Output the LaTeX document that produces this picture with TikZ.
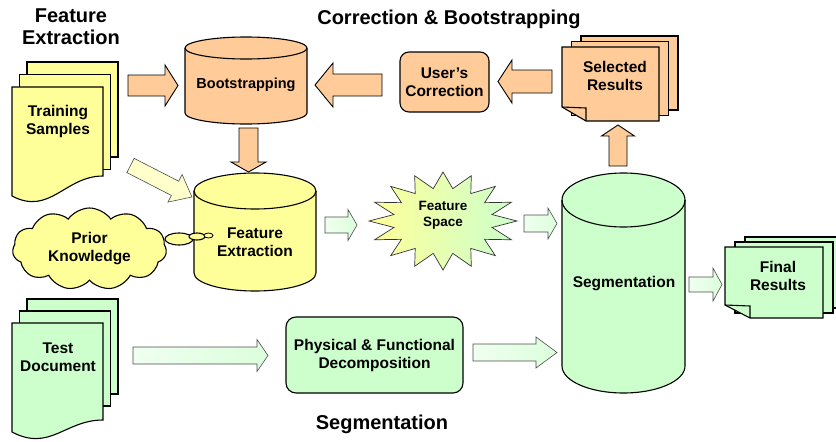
\documentclass[tikz,border=0pt]{standalone}
\usepackage{fontspec}
\setmainfont{Liberation Sans}
\usetikzlibrary{calc,shapes.symbols}
\definecolor{docyellow}{RGB}{255,255,153}
\definecolor{docorange}{RGB}{255,204,153}
\definecolor{docgreen}{RGB}{204,255,204}
\definecolor{palegreen}{RGB}{240,255,240}
\definecolor{paleyellow}{RGB}{255,255,204}

% upright cylinder: fill, centre x, top y, bottom y, x radius, y radius
\newcommand\drum[6]{%
  \filldraw[outline, fill=#1] (#2-#5,#3-#6) -- (#2-#5,#4+#6)
    arc[start angle=180, end angle=360, x radius=#5, y radius=#6] -- (#2+#5,#3-#6)
    arc[start angle=0, end angle=180, x radius=#5, y radius=#6] -- cycle;
  \draw[outline] (#2+#5,#3-#6) arc[start angle=0, end angle=-180, x radius=#5, y radius=#6];
}
% block arrow: style, from, to, half shaft, half head, head length
\newcommand\blockarrow[6][]{%
  \path[#1] let \p1=#2, \p2=#3, \n1={atan2(\y2-\y1,\x2-\x1)}, \n2={veclen(\x2-\x1,\y2-\y1)} in
    {[shift={(\p1)}, rotate=\n1]
      (0,#4) -- (\n2-#6,#4) -- (\n2-#6,#5) -- (\n2,0) -- (\n2-#6,-#5) -- (\n2-#6,-#4) -- (0,-#4) -- cycle};
}

\begin{document}
\begin{tikzpicture}[x=1pt,y=1pt,
    heading/.style={font=\fontsize{20}{22}\selectfont\bfseries, align=center},
    boxtext/.style={font=\fontsize{15.5}{18}\selectfont\bfseries, align=center},
    outline/.style={draw=black, line width=1.1pt},
    paper/.style={outline},
    oraarrow/.style={draw=black, line width=0.9pt, fill=docorange},
    grnarrow/.style={draw=black!70, line width=0.6pt, left color=palegreen, right color=docgreen!70},
    yelarrow/.style={draw=black!70, line width=0.6pt, fill=paleyellow},
    burst/.style={draw=black!80, line width=0.7pt, left color=docyellow, right color=docgreen}]
  \useasboundingbox (0,0) rectangle (836,-442);

  % headings
  \node[heading] (hfe) at (71,-27) {Feature\\Extraction};
  \node[heading] (hcb) at (449,-19) {Correction \& Bootstrapping};
  \node[heading] (hseg) at (382,-424) {Segmentation};

  % training samples
  \foreach \s in {2,1} {\filldraw[paper, fill=docyellow] (12+7.5*\s,-87+12.5*\s) rectangle ++(91,-95);}
  \filldraw[paper, fill=docyellow] (12,-87) -- (103,-87) -- (103,-176)
    .. controls (65,-176) and (50,-216) .. (12,-196) -- cycle;
  \node[boxtext] (train) at (58,-121) {Training\\Samples};

  % test document
  \foreach \s in {2,1} {\filldraw[paper, fill=docgreen] (12+7.5*\s,-323+12*\s) rectangle ++(91,-95);}
  \filldraw[paper, fill=docgreen] (12,-323) -- (103,-323) -- (103,-420)
    .. controls (65,-420) and (50,-452) .. (12,-432) -- cycle;
  \node[boxtext] (test) at (58,-357) {Test\\Document};

  % bootstrapping
  \drum{docorange}{246}{-37}{-124}{61}{11}
  \node[boxtext, font=\fontsize{14.5}{17}\selectfont\bfseries] (boot) at (246,-85) {Bootstrapping};

  % user's correction
  \node[boxtext, outline, fill=docorange, rounded corners=9pt, minimum width=89pt, minimum height=60pt]
    (userc) at (444.5,-82) {User's\\Correction};

  % selected results
  \foreach \s in {2,1} {\filldraw[paper, fill=docorange] (562+9.5*\s,-47+5.5*\s) rectangle ++(97,-74);}
  \filldraw[paper, fill=docorange] (562,-47) -- (659,-47) -- (659,-121) -- (586,-121) -- (562,-107) -- cycle;
  \draw[paper] (562,-107) -- (586,-108) -- (586,-121);
  \node[boxtext] (sel) at (615,-76) {Selected\\Results};

  % prior knowledge
  \node[cloud, cloud puffs=11, cloud puff arc=110, aspect=2, outline, fill=docyellow, boxtext,
    minimum width=154pt, minimum height=82pt, inner sep=0pt] (prior) at (89.5,-249) {Prior\\Knowledge};

  % feature extraction
  \drum{docyellow}{255}{-173}{-291}{61}{18}
  \node[boxtext] (fe) at (255,-242) {Feature\\Extraction};
  \filldraw[outline, fill=docyellow] (179,-239) ellipse[x radius=14, y radius=6];
  \filldraw[outline, fill=docyellow] (197,-236.5) ellipse[x radius=8, y radius=3.5];
  \filldraw[outline, line width=0.8pt, fill=docyellow] (208.5,-235.5) ellipse[x radius=4.5, y radius=2.5];

  % feature space
  \draw[burst] plot[samples at={0,...,31}, variable=\k]
    ({443+(74-24*mod(\k,2))*cos(\k*11.25)}, {-221+(49-16*mod(\k,2))*sin(\k*11.25)}) -- cycle;
  \node[font=\fontsize{13.5}{16}\selectfont\bfseries, align=center] (fs) at (443,-215) {Feature\\Space};

  % segmentation
  \drum{docgreen}{623.5}{-173}{-393}{61.5}{27}
  \node[boxtext] (seg) at (624,-284) {Segmentation};

  % physical & functional decomposition
  \node[boxtext, outline, fill=docgreen, rounded corners=10pt, minimum width=177pt, minimum height=76pt]
    (phys) at (374.5,-355) {Physical \& Functional\\Decomposition};

  % final results
  \foreach \s in {2,1} {\filldraw[paper, fill=docgreen] (725+10*\s,-247+5*\s) rectangle ++(98,-71);}
  \filldraw[paper, fill=docgreen] (725,-247) -- (823,-247) -- (823,-318) -- (750,-318) -- (725,-305) -- cycle;
  \draw[paper] (725,-305) -- (750,-306) -- (750,-318);
  \node[boxtext] (final) at (778,-276) {Final\\Results};

  % arrows
  \blockarrow[oraarrow]{($(train.center)+(70,35.5)$)}{($(boot.center)+(-68,-0.5)$)}{10.5}{20.5}{13}
  \blockarrow[oraarrow]{($(userc.center)+(-62.5,-3)$)}{($(boot.center)+(69,0)$)}{11}{22}{18}
  \blockarrow[oraarrow]{($(sel.center)+(-63,-5.5)$)}{($(userc.center)+(53.5,0.5)$)}{11.5}{21.5}{14}
  \blockarrow[oraarrow]{($(seg.center)+(-6,118)$)}{($(sel.center)+(3,-49)$)}{9}{16.5}{11}
  \blockarrow[oraarrow]{($(boot.center)+(2.5,-43)$)}{($(fe.center)+(-6.5,70)$)}{9.5}{17.5}{10}
  \blockarrow[yelarrow]{($(train.center)+(72.5,-44.5)$)}{($(fe.center)+(-63,45)$)}{8}{15.5}{19}
  \blockarrow[grnarrow]{($(fe.center)+(70,17)$)}{($(fs.center)+(-86,-10)$)}{8}{15.5}{9}
  \blockarrow[grnarrow]{($(fs.center)+(81,-8.5)$)}{($(seg.center)+(-67,60.5)$)}{8.5}{15.5}{9}
  \blockarrow[grnarrow]{($(seg.center)+(65,-0.5)$)}{($(final.center)+(-56,-8.5)$)}{7.5}{16.5}{9}
  \blockarrow[grnarrow]{($(test.center)+(75,1.5)$)}{($(phys.center)+(-106.5,-0.5)$)}{8.5}{16}{11}
  \blockarrow[grnarrow]{($(phys.center)+(98.5,2.5)$)}{($(seg.center)+(-67,-68.5)$)}{8.5}{15.5}{21}
\end{tikzpicture}
\end{document}
